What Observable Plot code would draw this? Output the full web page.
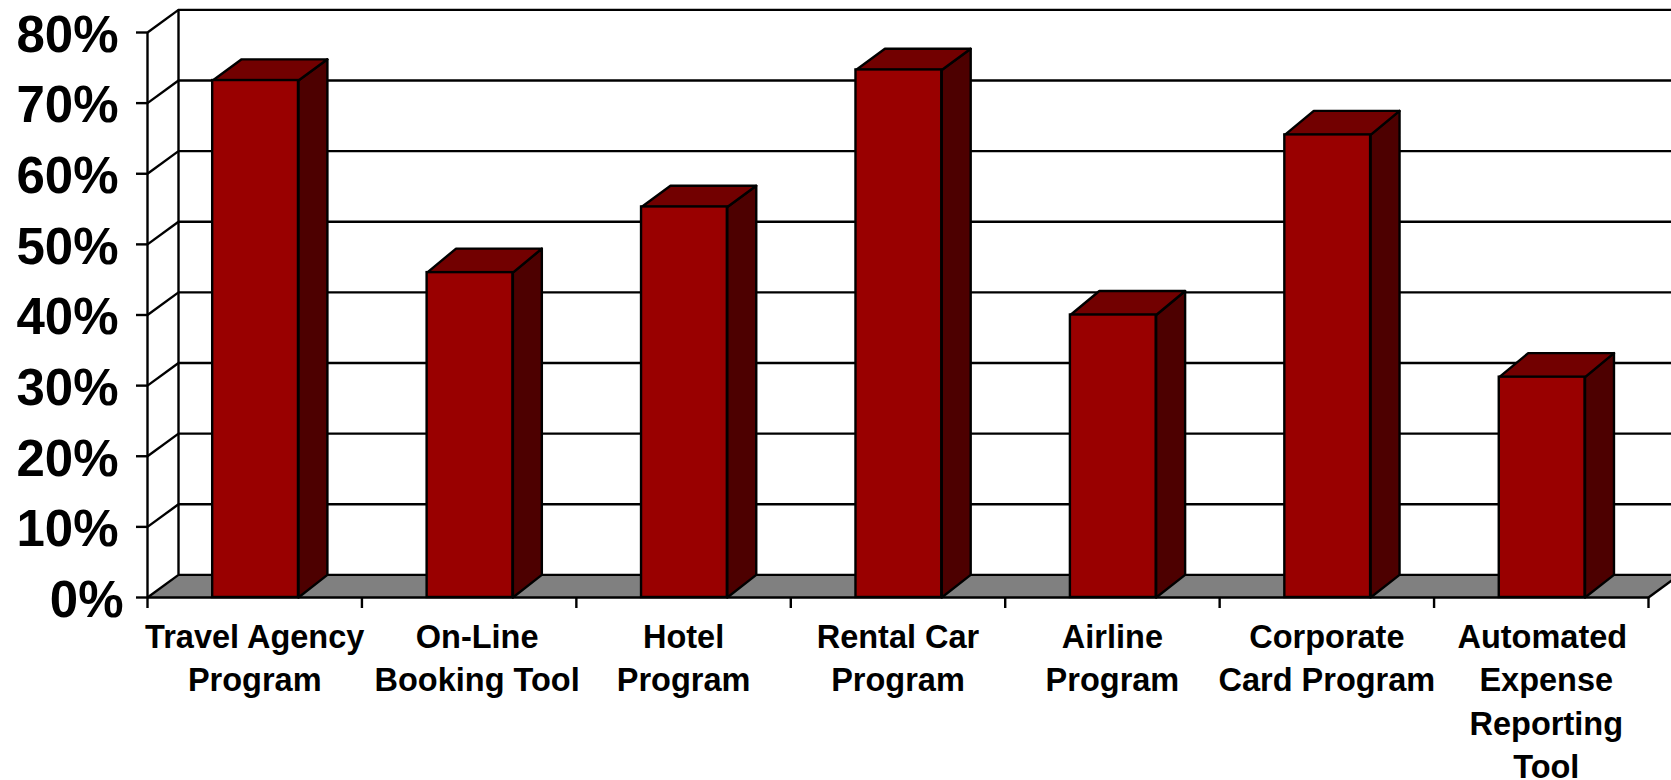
<!DOCTYPE html>
<html>
<head>
<meta charset="utf-8">
<script src="https://cdn.jsdelivr.net/npm/d3@7"></script>
<script src="https://cdn.jsdelivr.net/npm/@observablehq/plot@0.6"></script>
<style>html,body{margin:0;padding:0;background:#fff;overflow:hidden}</style>
</head>
<body>
<div id="chart"></div>
<script>
const categories = [
  "Travel Agency\nProgram",
  "On-Line\nBooking Tool",
  "Hotel\nProgram",
  "Rental Car\nProgram",
  "Airline\nProgram",
  "Corporate\nCard Program",
  "Automated\nExpense\nReporting\nTool"
];
const values = [73.2, 46, 55.3, 74.7, 40, 65.5, 31.2];
const topDepths = [3.0, 3.4, 3.0, 3.0, 3.4, 3.4, 3.4];
const yTicks = [0, 10, 20, 30, 40, 50, 60, 70, 80];
const xTicks = [0, 1, 2, 3, 4, 5, 6, 7];

const WALL_X = 0.1446, WALL_Y = 3.2;   // wall depth, in category and percent units
const BAR_X = 0.135;                   // bar depth
const BAR_L = 0.304, BAR_R = 0.704;
const FRONT = "#990000", TOP = "#720000", SIDE = "#4d0000", FLOOR = "#808080", INK = "#000";
const SW = 2.4;

const bars = values.map((v, i) => ({i, v, d: topDepths[i], label: categories[i]}));
const poly = (id, pts) => [...pts, pts[0]].map(([x, y]) => ({id, x, y}));
const topFaces = bars.flatMap(b => poly("t" + b.i, [
  [b.i + BAR_L, b.v], [b.i + BAR_R, b.v],
  [b.i + BAR_R + BAR_X, b.v + b.d], [b.i + BAR_L + BAR_X, b.v + b.d]
]));
const sideFaces = bars.flatMap(b => poly("s" + b.i, [
  [b.i + BAR_R, 0], [b.i + BAR_R, b.v],
  [b.i + BAR_R + BAR_X, b.v + b.d], [b.i + BAR_R + BAR_X, WALL_Y]
]));
const floor = poly("floor", [[0, 0], [7, 0], [7 + WALL_X, WALL_Y], [WALL_X, WALL_Y]]);

const labelMark = (data, text, dx = 0) => Plot.text(data, {
  x: d => d.i + 0.5, y: 0, text, dy: 20, dx,
  lineAnchor: "top", lineHeight: 1.33, fontSize: 32.5, fontWeight: "bold", fill: INK
});
const tickLabel = d => d + "%";
const axisTicks = {anchor: "left", tickSize: 11, tickFormat: () => "", label: null, strokeWidth: SW};
const axisLabel = {anchor: "left", tickSize: 0, fontSize: 51, fontWeight: "bold", tickFormat: tickLabel, label: null, dy: 3};

const chart = Plot.plot({
  width: 1671,
  height: 780,
  marginLeft: 147,
  marginRight: 23,
  marginTop: 32,
  marginBottom: 183,
  style: {fontFamily: "'Liberation Sans', Arial, sans-serif", background: "#fff", color: "#000"},
  x: {type: "linear", domain: [0, 7], axis: null},
  y: {type: "linear", domain: [0, 80], axis: null},
  marks: [
    // floor
    Plot.line(floor, {x: "x", y: "y", z: "id", fill: FLOOR, stroke: "none"}),
    // back wall
    Plot.ruleY(yTicks, {y: d => d + WALL_Y, x1: WALL_X, x2: 7 + WALL_X, stroke: INK, strokeWidth: SW}),
    Plot.ruleX([WALL_X], {y1: WALL_Y, y2: 80 + WALL_Y, stroke: INK, strokeWidth: SW}),
    // side wall
    Plot.ruleX([0], {y1: 0, y2: 80, stroke: INK, strokeWidth: SW}),
    Plot.link(yTicks, {x1: 0, x2: WALL_X, y1: d => d, y2: d => d + WALL_Y, stroke: INK, strokeWidth: SW}),
    // front floor edge and right floor edge
    Plot.ruleY([0], {x1: 0, x2: 7, stroke: INK, strokeWidth: SW}),
    Plot.link([7], {x1: d => d, x2: d => d + WALL_X, y1: 0, y2: WALL_Y, stroke: INK, strokeWidth: SW}),
    // bars
    Plot.line(sideFaces, {x: "x", y: "y", z: "id", fill: SIDE, stroke: INK, strokeWidth: SW}),
    Plot.line(topFaces, {x: "x", y: "y", z: "id", fill: TOP, stroke: INK, strokeWidth: SW}),
    Plot.rect(bars, {x1: d => d.i + BAR_L, x2: d => d.i + BAR_R, y1: 0, y2: "v", fill: FRONT, stroke: INK, strokeWidth: SW}),
    // axes
    Plot.axisY(yTicks, axisTicks),
    Plot.axisY(yTicks.slice(1), {...axisLabel, tickPadding: 29}),
    Plot.axisY([0], {...axisLabel, tickPadding: 24}),
    Plot.axisX(xTicks, {anchor: "bottom", tickSize: 11, tickFormat: () => "", label: null, strokeWidth: SW}),
    // category labels
    labelMark(bars.filter(d => d.i !== 1 && d.i !== 6), "label"),
    labelMark(bars.filter(d => d.i === 1), "label", 8),
    labelMark(bars.filter(d => d.i === 6), d => d.label.split("\n")[0] + "\n\n\n", 1),
    labelMark(bars.filter(d => d.i === 6), d => "\n" + d.label.split("\n").slice(1).join("\n"), 5)
  ]
});
document.getElementById("chart").appendChild(chart);
</script>
</body>
</html>
